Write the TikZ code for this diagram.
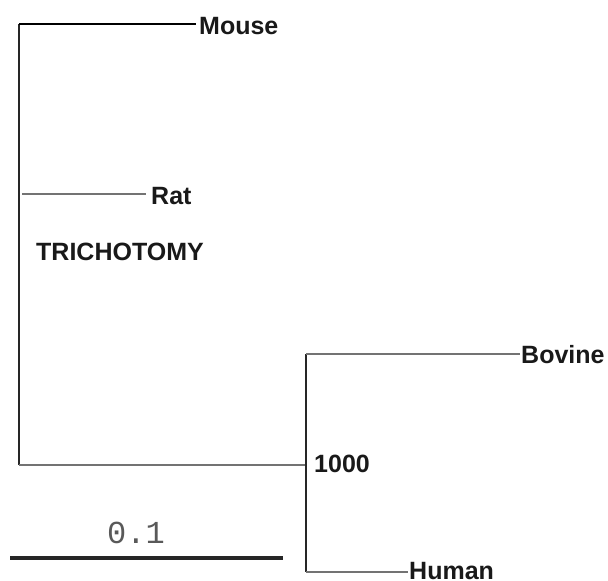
\documentclass[tikz,border=0pt]{standalone}
\usepackage{fontspec}
\setmainfont{Liberation Sans}
\newfontfamily\monofont{Liberation Mono}
\begin{document}
\begin{tikzpicture}[x=1pt,y=-1pt,
  branch/.style={line width=2pt,draw=black!55},
  stem/.style={line width=2pt,draw=black!85},
  leaf/.style={anchor=base west,inner sep=0pt,font=\fontsize{25}{29}\bfseries\selectfont,text=black!90},
  scalebar/.style={line width=3.5pt,draw=black!85}]
\useasboundingbox (0,0) rectangle (608,581);
% tree skeleton
\coordinate (root) at (19,465);
\coordinate (top) at (19,24);
\coordinate (ratstart) at (22,194);
\coordinate (ratend) at (146,194);
\coordinate (mouseend) at (196,24);
\coordinate (clade) at (306,465);
\coordinate (cladetop) at (306,354);
\coordinate (cladebot) at (306,572);
\coordinate (bovineend) at (520,354);
\coordinate (humanend) at (408,572);
% labels
\node[leaf] (mouse) at (199,34) {Mouse};
\node[leaf] (rat) at (151,204) {Rat};
\node[leaf] (tri) at (36,260) {TRICHOTOMY};
\node[leaf] (bovine) at (521,363) {Bovine};
\node[leaf] (human) at (409,579) {Human};
\node[leaf] (boot) at (314,472) {1000};
% branches
\draw[stem] (root) -- (top);
\draw[line width=2pt,draw=black] (top) -- (mouseend);
\draw[branch] (ratstart) -- (ratend);
\draw[branch] (root) -- (clade);
\draw[stem] (cladetop) -- (cladebot);
\draw[branch] (cladetop) -- (bovineend);
\draw[branch] (cladebot) -- (humanend);
% scale bar
\coordinate (sbl) at (10,558);
\coordinate (sbr) at (283,558);
\draw[scalebar] (sbl) -- (sbr);
\node[anchor=base,inner sep=0pt,font=\monofont\fontsize{32}{36}\selectfont,text=black!65] (scale) at (136,543) {0.1};
\end{tikzpicture}
\end{document}
